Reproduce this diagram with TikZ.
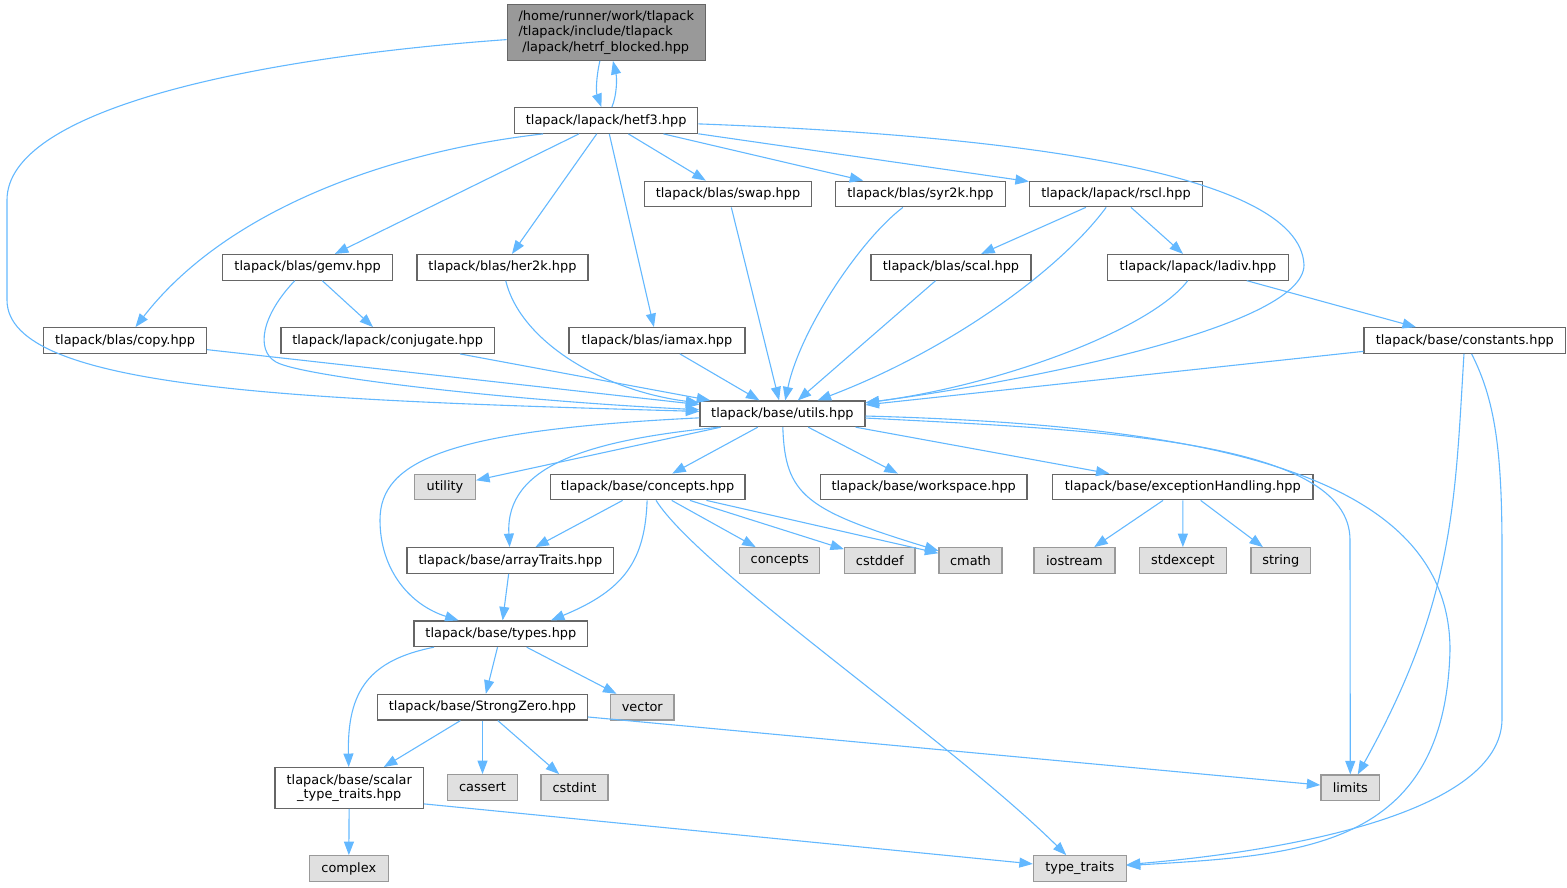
\documentclass[tikz,border=0pt]{standalone}
\usepackage{fontspec}
\setmainfont{DejaVu Sans}
\usetikzlibrary{arrows.meta}
\definecolor{edgeblue}{HTML}{63B8FF}
\definecolor{boxgray}{HTML}{666666}
\definecolor{sysgray}{HTML}{999999}
\definecolor{sysfill}{HTML}{E0E0E0}

\begin{document}
\begin{tikzpicture}[x=1pt,y=-1pt,
    hdr/.style={draw=boxgray,fill=white,line width=1.2pt,inner sep=0pt,
        minimum height=25.6pt,font=\fontsize{12.9}{15.3}\selectfont},
    syshdr/.style={hdr,draw=sysgray,fill=sysfill},
    curhdr/.style={hdr,fill=sysgray},
    incl/.style={draw=edgeblue,line width=1.1pt,
        -{Triangle[length=13.5pt,width=10pt]}}]
                \useasboundingbox (0,0) rectangle (1567,887);

                \node[curhdr,minimum width=198pt,minimum height=55.6pt,align=left] (top) at (606.3,32.5)
                    {/home/runner/work/tlapack\\/tlapack/include/tlapack\\\hspace*{3.7pt}/lapack/hetrf\_blocked.hpp};
                \node[hdr,minimum width=183pt] (hetf3) at (606.2,120.5) {tlapack/lapack/hetf3.hpp};

                \node[hdr,minimum width=167pt] (swap) at (728,194) {tlapack/blas/swap.hpp};
                \node[hdr,minimum width=170pt] (syr2k) at (920.5,194) {tlapack/blas/syr2k.hpp};
                \node[hdr,minimum width=173pt] (rscl) at (1116,194) {tlapack/lapack/rscl.hpp};

                \node[hdr,minimum width=170pt] (gemv) at (307.6,267.3) {tlapack/blas/gemv.hpp};
                \node[hdr,minimum width=171pt] (her2k) at (502.5,267.3) {tlapack/blas/her2k.hpp};
                \node[hdr,minimum width=160pt] (scal) at (951,267.3) {tlapack/blas/scal.hpp};
                \node[hdr,minimum width=181pt] (ladiv) at (1198,267.3) {tlapack/lapack/ladiv.hpp};

                \node[hdr,minimum width=163pt] (copy) at (125.1,340.5) {tlapack/blas/copy.hpp};
                \node[hdr,minimum width=213.5pt] (conjugate) at (387.7,340.5) {tlapack/lapack/conjugate.hpp};
                \node[hdr,minimum width=176pt] (iamax) at (657,340.5) {tlapack/blas/iamax.hpp};
                \node[hdr,minimum width=201.5pt] (constants) at (1464.8,340.5) {tlapack/base/constants.hpp};

                \node[hdr,minimum width=165pt] (utils) at (782.4,413.8) {tlapack/base/utils.hpp};

                \node[syshdr,minimum width=61pt] (utility) at (445,487) {utility};
                \node[hdr,minimum width=194.6pt] (conceptshpp) at (647.6,487) {tlapack/base/concepts.hpp};
                \node[hdr,minimum width=206.7pt] (workspace) at (923.7,487) {tlapack/base/workspace.hpp};
                \node[hdr,minimum width=260.5pt] (exception) at (1182.8,487) {tlapack/base/exceptionHandling.hpp};

                \node[hdr,minimum width=206.7pt] (arraytraits) at (510.4,560.5) {tlapack/base/arrayTraits.hpp};
                \node[syshdr,minimum width=80pt] (concepts) at (779.8,560.5) {concepts};
                \node[syshdr,minimum width=70.5pt] (cstddef) at (879.8,560.5) {cstddef};
                \node[syshdr,minimum width=63pt] (cmath) at (970.5,560.5) {cmath};
                \node[syshdr,minimum width=81pt] (iostream) at (1074.4,560.5) {iostream};
                \node[syshdr,minimum width=87.6pt] (stdexcept) at (1182.9,560.5) {stdexcept};
                \node[syshdr,minimum width=59.6pt] (string) at (1280.8,560.5) {string};

                \node[hdr,minimum width=173.7pt] (types) at (500.9,633.8) {tlapack/base/types.hpp};
                \node[hdr,minimum width=209.7pt] (strongzero) at (482.5,707.2) {tlapack/base/StrongZero.hpp};
                \node[syshdr,minimum width=63.3pt] (vector) at (642.3,707.2) {vector};

                \node[hdr,minimum width=148.3pt,minimum height=40.7pt,align=center,
                    font=\fontsize{12.9}{14}\selectfont] (scalartraits) at (349.2,788)
                    {tlapack/base/scalar\\\_type\_traits.hpp};
                \node[syshdr,minimum width=69.7pt] (cassert) at (482.5,787.5) {cassert};
                \node[syshdr,minimum width=67pt] (cstdint) at (574.5,787.5) {cstdint};
                \node[syshdr,minimum width=58.7pt] (limits) at (1350.3,787.8) {limits};
                \node[syshdr,minimum width=79pt] (complex) at (348.8,868.5) {complex};
                \node[syshdr,minimum width=92.7pt] (typetraits) at (1079.8,868.5) {type\_traits};

                \draw[incl] (top) .. controls (596,78) and (596,92) .. (hetf3);
                \draw[incl] (hetf3) .. controls (617,95) and (617,78) .. (top);
                \draw[incl] (top) .. controls (250,58) and (7,110) .. (7,200) -- (7,300)
                    .. controls (7,390) and (300,400) .. (utils);

                \draw[incl] (hetf3.-168) .. controls (400,150) and (230,205) .. (copy);
                \draw[incl] (hetf3) -- (gemv);
                \draw[incl] (hetf3) -- (her2k);
                \draw[incl] (hetf3) -- (iamax);
                \draw[incl] (hetf3) -- (swap);
                \draw[incl] (hetf3) -- (syr2k);
                \draw[incl] (hetf3) -- (rscl);
                \draw[incl] (hetf3) .. controls (1000,135) and (1300,170) .. (1304,265)
                    .. controls (1304,330) and (1000,385) .. (utils);

                \draw[incl] (swap) -- (utils);
                \draw[incl] (syr2k) .. controls (860,240) and (800,330) .. (utils);
                \draw[incl] (rscl) -- (scal);
                \draw[incl] (rscl) -- (ladiv);
                \draw[incl] (rscl) .. controls (1060,270) and (950,350) .. (utils);

                \draw[incl] (gemv) -- (conjugate);
                \draw[incl] (gemv) .. controls (262,315) and (255,350) .. (276,362)
                    .. controls (300,376) and (500,400) .. (utils);
                \draw[incl] (her2k) .. controls (520,340) and (600,390) .. (utils);
                \draw[incl] (scal) -- (utils);
                \draw[incl] (ladiv) -- (constants);
                \draw[incl] (ladiv) .. controls (1150,330) and (1000,385) .. (utils);

                \draw[incl] (copy) -- (utils);
                \draw[incl] (conjugate) -- (utils);
                \draw[incl] (iamax) -- (utils);
                \draw[incl] (constants) -- (utils);
                \draw[incl] (constants) .. controls (1455,500) and (1455,600) .. (limits);
                \draw[incl] (constants) .. controls (1495,400) and (1502,450) .. (1502,550) -- (1502,720)
                    .. controls (1500,810) and (1300,850) .. (typetraits);

                \draw[incl] (utils) -- (utility);
                \draw[incl] (utils) -- (conceptshpp);
                \draw[incl] (utils) -- (workspace);
                \draw[incl] (utils) -- (exception);
                \draw[incl] (utils.-168) .. controls (590,440) and (505,465) .. (arraytraits);
                \draw[incl] (utils) .. controls (450,430) and (380,460) .. (380,520)
                    .. controls (380,570) and (410,605) .. (types);
                \draw[incl] (utils) .. controls (785,495) and (805,510) .. (cmath);
                \draw[incl] (utils) .. controls (1100,430) and (1350,440) .. (1350,540) -- (limits);
                \draw[incl] (utils) .. controls (1200,425) and (1450,470) .. (1450,650)
                    .. controls (1445,850) and (1300,855) .. (typetraits);

                \draw[incl] (conceptshpp) -- (arraytraits);
                \draw[incl] (conceptshpp) .. controls (645,560) and (625,590) .. (types.15);
                \draw[incl] (conceptshpp) -- (concepts);
                \draw[incl] (conceptshpp) -- (cstddef);
                \draw[incl] (conceptshpp) -- (cmath);
                \draw[incl] (conceptshpp) .. controls (700,570) and (950,740) .. (typetraits);

                \draw[incl] (exception) -- (iostream);
                \draw[incl] (exception) -- (stdexcept);
                \draw[incl] (exception) -- (string);

                \draw[incl] (arraytraits) -- (types);
                \draw[incl] (types) -- (strongzero);
                \draw[incl] (types) -- (vector);
                \draw[incl] (types) .. controls (370,660) and (347,690) .. (scalartraits);

                \draw[incl] (strongzero) -- (scalartraits);
                \draw[incl] (strongzero) -- (cassert);
                \draw[incl] (strongzero) -- (cstdint);
                \draw[incl] (strongzero) -- (limits);

                \draw[incl] (scalartraits) -- (complex);
                \draw[incl] (scalartraits.-12) -- (typetraits);
            \end{tikzpicture}
\end{document}
